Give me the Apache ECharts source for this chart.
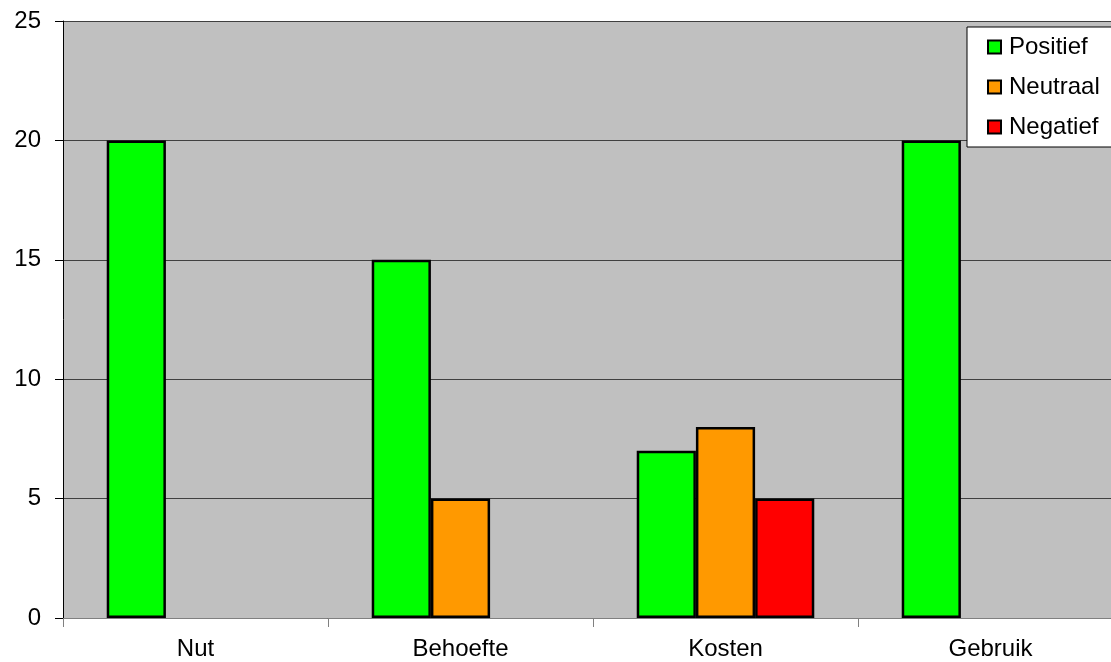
<!DOCTYPE html>
<html>
<head>
<meta charset="utf-8">
<script src="https://cdn.jsdelivr.net/npm/echarts@6/dist/echarts.min.js"></script>
<style>
  html, body { margin: 0; padding: 0; background: #ffffff; overflow: hidden; }
  /* the plot runs slightly past the right edge of the window */
  #chart { width: 1123px; height: 662px; }
</style>
</head>
<body>
<div id="chart"></div>
<script>
// Answers per topic, split by sentiment
const categories = ['Nut', 'Behoefte', 'Kosten', 'Gebruik'];
const positief = [20, 15, 7, 20];
const neutraal = [null, 5, 8, null];
const negatief = [null, null, 5, null];
const yTicks = { min: 0, max: 25, interval: 5 };

const font = 'Arial, "Liberation Sans", sans-serif';

function barSeries(name, data, color) {
  return {
    name: name,
    type: 'bar',
    data: data,
    barGap: '0%',
    barCategoryGap: '33%',
    itemStyle: { color: color, borderColor: '#000000', borderWidth: 2.5 },
    emphasis: { disabled: true }
  };
}

const chart = echarts.init(document.getElementById('chart'), null, { renderer: 'canvas' });
chart.setOption({
  animation: false,
  backgroundColor: '#ffffff',
  grid: {
    left: 63, top: 21, right: 0, bottom: 44,
    show: true, backgroundColor: '#C0C0C0', borderWidth: 0
  },
  legend: {
    orient: 'vertical',
    left: 967, top: 27,
    padding: [8, 40, 8, 20],
    itemWidth: 13, itemHeight: 13, itemGap: 16,
    icon: 'rect',
    backgroundColor: '#ffffff',
    borderColor: '#000000', borderWidth: 1,
    textStyle: { fontFamily: font, fontSize: 24, color: '#000000', lineHeight: 24, padding: [0, 0, 0, 3] },
    selectedMode: false
  },
  xAxis: {
    type: 'category',
    data: categories,
    axisLine: { lineStyle: { color: '#808080', width: 1 } },
    axisTick: { show: true, length: 9, lineStyle: { color: '#808080' } },
    axisLabel: { fontFamily: font, fontSize: 24, color: '#000000', margin: 19 },
    splitLine: { show: false }
  },
  yAxis: {
    type: 'value',
    min: yTicks.min, max: yTicks.max, interval: yTicks.interval,
    axisLine: { show: true, lineStyle: { color: '#000000', width: 1 } },
    axisTick: { show: true, length: 8, lineStyle: { color: '#000000' } },
    axisLabel: { fontFamily: font, fontSize: 24, color: '#000000', margin: 22 },
    splitLine: { show: true, lineStyle: { color: '#404040', width: 1 } }
  },
  series: [
    barSeries('Positief', positief, '#00FF00'),
    barSeries('Neutraal', neutraal, '#FF9900'),
    barSeries('Negatief', negatief, '#FF0000')
  ]
});
</script>
</body>
</html>
